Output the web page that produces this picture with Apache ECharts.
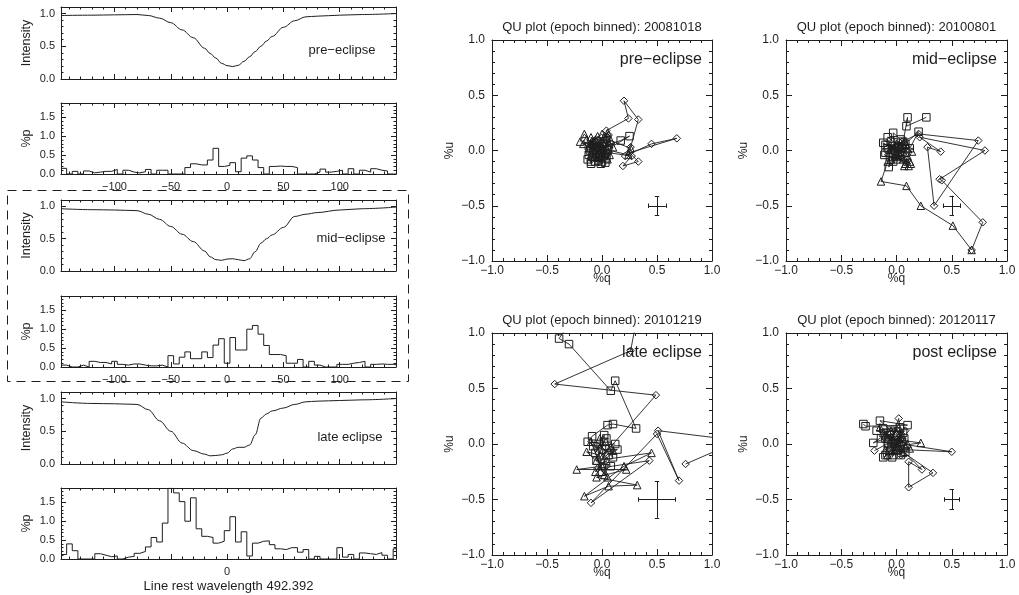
<!DOCTYPE html>
<html>
<head>
<meta charset="utf-8">
<script src="https://cdn.jsdelivr.net/npm/echarts@6/dist/echarts.min.js"></script>
<style>
  html, body { margin: 0; padding: 0; background: #fff; }
  #chart { width: 1019px; height: 595px; }
</style>
</head>
<body>
<div id="chart"></div>
<script>
// line profiles (velocity samples, km/s)
const velI = [-147.5, -120, -100, -80, -70, -60, -50, -40, -30, -20, -15, -10, -5, 0, 5, 10, 15, 20, 25, 30, 35, 40, 50, 60, 70, 80, 100, 120, 150]
const preInt = [0.97, 0.975, 0.98, 0.985, 0.97, 0.93, 0.86, 0.75, 0.63, 0.47, 0.39, 0.32, 0.24, 0.205, 0.19, 0.21, 0.27, 0.34, 0.42, 0.50, 0.58, 0.65, 0.79, 0.89, 0.95, 0.96, 0.975, 0.985, 1.0]
const midInt = [0.965, 0.95, 0.945, 0.935, 0.88, 0.80, 0.69, 0.57, 0.456, 0.31, 0.22, 0.176, 0.165, 0.185, 0.19, 0.175, 0.16, 0.19, 0.30, 0.43, 0.50, 0.56, 0.675, 0.845, 0.88, 0.905, 0.945, 0.965, 0.99]
const lateInt = [0.95, 0.925, 0.92, 0.91, 0.83, 0.66, 0.50, 0.32, 0.205, 0.15, 0.125, 0.13, 0.14, 0.165, 0.23, 0.255, 0.255, 0.29, 0.446, 0.70, 0.765, 0.81, 0.855, 0.91, 0.95, 0.96, 0.97, 0.98, 1.0]

// %p histograms, bin centres every 5 km/s
const binWidth = 5
const binCenters = [-145, -140, -135, -130, -125, -120, -115, -110, -105, -100, -95, -90, -85, -80, -75, -70, -65, -60, -55, -50,
  -45, -40, -35, -30, -25, -20, -15, -10, -5, 0, 5, 10, 15, 20, 25, 30, 35, 40, 45, 50,
  55, 60, 65, 70, 75, 80, 85, 90, 95, 100, 105, 110, 115, 120, 125, 130, 135, 140, 145, 150]
const prePol = [0.15, 0, 0.07, 0, 0.08, 0.03, 0.05, 0.07, 0.07, 0.12, 0, 0.1, 0.05, 0.03, 0.06, 0.12, 0, 0.1, 0.1, 0,
  0, 0, 0.17, 0.27, 0.24, 0.24, 0.37, 0.68, 0.2, 0.23, 0.3, 0.06, 0.42, 0.48, 0.37, 0.17, 0, 0.2, 0.21, 0.2,
  0.2, 0.17, 0, 0, 0, 0.05, 0.13, 0.05, 0.07, 0.1, 0, 0.14, 0, 0.1, 0.05, 0.14, 0.1, 0.08, 0, 0]
const midPol = [0.05, 0, 0, 0.05, 0, 0.15, 0.12, 0.12, 0.08, 0.15, 0.07, 0.05, 0.08, 0.08, 0.05, 0.03, 0.03, 0.05, 0, 0.3,
  0.08, 0.26, 0.4, 0.22, 0.22, 0.4, 0.25, 0.58, 0.75, 0.1, 0.78, 0.45, 0.45, 1.0, 1.1, 0.87, 0.57, 0.33, 0.33, 0.3,
  0.1, 0.1, 0.2, 0, 0.15, 0.05, 0, 0, 0, 0.07, 0.07, 0.1, 0.12, 0.15, 0, 0.07, 0.08, 0.07, 0.07, 0.05]
const latePol = [0.12, 0.4, 0.22, 0, 0, 0, 0.14, 0.1, 0.06, 0.08, 0, 0.05, 0.07, 0.15, 0.2, 0.32, 0.57, 0.45, 0.95, 1.87,
  1.75, 1.52, 1.0, 1.62, 0.8, 0.6, 0.57, 0.42, 0.47, 0.75, 1.12, 0.45, 0.72, 0.08, 0.42, 0.47, 0.48, 0.38, 0.27, 0.25,
  0.3, 0.3, 0.18, 0.25, 0, 0.07, 0, 0, 0, 0.3, 0.05, 0.12, 0, 0.16, 0.14, 0.12, 0.17, 0.1, 0, 0.27]

// QU points [q, u] per epoch: diamonds, squares, triangles
const preDia = [[0.02, 0.04], [0.08, 0.06], [0.06, 0.14], [0.04, 0.18], [0.24, 0.29], [0.2, 0.45], [0.33, 0.28], [0.26, 0.03], [0.21, -0.05], [0.45, 0.06], [0.68, 0.11], [0.25, -0.02], [0.33, -0.1], [0.19, -0.14], [0.27, -0.05], [0.06, -0.02], [0.0, -0.05], [-0.02, 0.03], [0.05, 0.12], [0.04, 0.1]]
const preSq = [[-0.12, -0.04], [-0.1, -0.12], [-0.04, -0.06], [-0.08, 0.05], [0.0, -0.1], [-0.13, -0.08], [-0.02, 0.02], [0.04, -0.07], [-0.06, -0.1], [0.02, 0.04], [0.17, 0.09], [0.25, 0.13], [0.0, -0.02], [-0.1, 0.02], [-0.05, 0.08], [0.03, -0.11], [-0.08, -0.02],
  [-0.11, 0.0], [-0.03, -0.09], [0.01, 0.06], [-0.09, -0.06], [-0.05, 0.0], [0.03, -0.03], [-0.12, 0.04], [-0.01, -0.12], [-0.07, 0.07], [0.05, 0.01], [-0.1, -0.1], [-0.02, -0.04]]
const preTri = [[-0.2, 0.08], [-0.16, 0.15], [-0.1, 0.06], [-0.04, 0.13], [0.01, 0.07], [0.05, 0.16], [0.03, -0.02], [-0.08, 0.0], [-0.14, 0.1], [0.07, -0.04], [0.1, 0.03], [-0.02, -0.06], [0.08, 0.09], [0.26, 0.02], [0.24, -0.04], [-0.05, 0.03], [0.02, 0.12],
  [-0.12, 0.02], [-0.06, 0.1], [0.0, 0.15], [0.04, 0.02], [-0.1, 0.12], [-0.03, -0.02], [0.06, 0.07], [-0.17, 0.06], [0.02, -0.05], [-0.08, 0.08], [0.05, -0.08], [0.0, 0.04]]

const midDia = [[0.0, 0.02], [0.05, 0.08], [0.2, 0.15], [0.74, 0.09], [0.34, -0.5], [0.28, 0.03], [0.4, -0.01], [0.21, 0.12], [0.8, 0.0], [0.39, -0.26], [0.41, -0.27], [0.78, -0.65], [0.68, -0.9]]
const midSq = [[0.27, 0.3], [0.09, 0.22], [0.1, 0.3], [0.06, 0.08], [-0.03, 0.16], [-0.02, 0.0], [-0.12, 0.07], [-0.1, -0.02], [-0.04, 0.04], [0.03, -0.04], [-0.07, -0.15], [-0.06, -0.06], [0.05, 0.02], [0.12, 0.02], [0.2, 0.17], [0.08, 0.06], [-0.08, 0.02],
  [-0.05, 0.08], [0.0, -0.08], [-0.11, -0.04], [0.04, 0.1], [-0.08, 0.12], [0.02, 0.04], [-0.03, -0.1], [0.08, -0.02], [-0.1, 0.05], [0.0, 0.02]]
const midTri = [[0.0, -0.03], [0.08, -0.12], [0.1, -0.05], [0.04, 0.04], [0.14, -0.01], [0.07, -0.14], [-0.02, 0.02], [0.12, -0.1], [-0.05, -0.08], [0.02, -0.05], [0.09, 0.05],
  [0.04, -0.02], [-0.05, 0.02], [0.1, 0.02], [0.06, -0.08], [0.13, -0.12], [-0.02, -0.06], [0.08, 0.08], [0.0, 0.06], [0.11, -0.14], [-0.06, -0.02],
  [-0.08, -0.1], [-0.14, -0.28], [0.09, -0.32], [0.22, -0.5], [0.51, -0.68], [0.68, -0.9]]

const lateDia = [[0.33, 1.2], [0.26, 0.84], [-0.43, 0.54], [0.49, 0.44], [0.03, -0.08], [-0.04, -0.22], [0.43, -0.15], [-0.1, -0.53], [0.5, 0.09], [0.7, -0.33], [0.51, 0.12], [1.25, 0.03], [0.76, -0.18]]
const lateSq = [[-0.33, 1.04], [-0.39, 0.95], [-0.3, 0.9], [0.08, 0.48], [0.12, 0.57], [0.31, 0.14], [0.1, 0.18], [0.05, 0.17], [-0.09, 0.07], [-0.13, 0.02], [0.0, -0.05], [0.14, -0.05], [0.06, -0.1], [-0.03, 0.0], [0.1, -0.12], [0.04, 0.05], [-0.06, -0.08], [0.02, 0.08],
  [0.02, 0.02], [-0.05, -0.15], [0.08, -0.2], [0.0, -0.25], [-0.08, -0.02], [0.12, 0.0]]
const lateTri = [[-0.02, -0.1], [-0.14, -0.07], [0.0, -0.2], [-0.23, -0.23], [0.22, -0.23], [-0.05, -0.3], [0.32, -0.37], [0.06, -0.38], [-0.16, -0.47], [0.2, -0.2], [0.45, -0.08], [-0.05, -0.15], [0.08, -0.02], [-0.1, 0.02], [0.02, -0.28],
  [0.04, -0.15], [-0.06, -0.25], [0.1, -0.06], [-0.02, 0.05], [0.05, -0.3]]

const postDia = [[-0.2, -0.06], [-0.05, 0.02], [0.02, 0.23], [0.05, 0.0], [0.5, -0.07], [0.05, -0.05], [0.23, -0.23], [0.11, -0.16], [0.11, -0.39], [0.33, -0.26], [-0.02, -0.02], [-0.05, 0.06], [0.04, -0.1], [0.0, 0.08], [0.08, 0.12]]
const postSq = [[-0.3, 0.18], [-0.28, 0.16], [0.1, 0.17], [-0.15, 0.21], [-0.05, 0.12], [-0.21, 0.01], [-0.1, 0.05], [-0.12, -0.12], [0.0, -0.05], [0.08, -0.07], [-0.06, 0.08], [0.03, 0.15], [-0.18, 0.12], [0.05, 0.02], [-0.1, -0.1],
  [-0.08, 0.0], [-0.02, 0.08], [-0.14, 0.05], [0.04, -0.1], [-0.06, -0.06], [0.06, 0.1], [-0.12, 0.14], [0.0, 0.0], [-0.04, -0.12], [0.07, 0.05]]
const postTri = [[-0.15, 0.15], [-0.08, 0.05], [0.22, 0.01], [0.0, -0.02], [-0.1, -0.05], [0.05, 0.08], [-0.03, -0.1], [0.08, -0.03], [-0.12, 0.1], [0.02, 0.15], [0.1, 0.0], [-0.04, 0.04],
  [-0.06, -0.02], [0.03, 0.02], [-0.1, 0.08], [0.06, -0.08], [0.0, 0.1], [-0.05, 0.12], [0.12, -0.04], [-0.02, -0.06], [0.04, 0.06], [-0.08, -0.1]]

// typical error bar, centre and half widths (q, u)
const errCenter = [0.5, -0.5]
const preErr = [0.08, 0.085]
const midErr = [0.08, 0.09]
const lateErr = [0.17, 0.165]
const postErr = [0.07, 0.09]

const quTitles = ['QU plot (epoch binned): 20081018', 'QU plot (epoch binned): 20100801', 'QU plot (epoch binned): 20101219', 'QU plot (epoch binned): 20120117']
const quLabels = ['pre\u2212eclipse', 'mid\u2212eclipse', 'late eclipse', 'post eclipse']
const profLabels = ['pre\u2212eclipse', 'mid\u2212eclipse', 'late eclipse']

const FONT = '"Liberation Sans", Arial, Helvetica, sans-serif'
const INK = '#1e1e1e'
const minus = (s) => String(s).replace('-', '\u2212')

const grids = []
const xAxes = []
const yAxes = []
const series = []
const graphics = []

function makeAxis(g, pos, s, main) {
  return {
    type: 'value', gridIndex: g, position: pos,
    min: s.min, max: s.max, interval: s.interval, splitNumber: s.split,
    name: main && s.name ? s.name : '', nameLocation: 'middle', nameGap: s.nameGap, nameMoveOverlap: false,
    nameTextStyle: { color: INK, fontFamily: FONT, fontSize: s.nameSize || 12 },
    axisLine: { show: true, onZero: false, lineStyle: { color: INK, width: 1 } },
    axisTick: { show: true, inside: true, length: s.tick, lineStyle: { color: INK, width: 1 } },
    minorTick: { show: true, splitNumber: 5, length: s.tick / 2, lineStyle: { color: INK, width: 1 } },
    splitLine: { show: false },
    axisLabel: { show: main && !!s.fmt, formatter: s.fmt, margin: s.margin, color: INK, fontFamily: FONT, fontSize: s.fontSize, showMinLabel: true, showMaxLabel: true }
  }
}

function addGrid(rect, xs, ys) {
  const g = grids.length
  grids.push({ left: rect[0], top: rect[1], width: rect[2], height: rect[3], outerBoundsMode: 'none', containLabel: false })
  xAxes.push(makeAxis(g, 'bottom', xs, true), makeAxis(g, 'top', xs, false))
  yAxes.push(makeAxis(g, 'left', ys, true), makeAxis(g, 'right', ys, false))
  return 2 * g
}

const fmtY = (v) => (Math.abs(v * 2 - Math.round(v * 2)) < 1e-6 && v <= 1.5) ? v.toFixed(1) : ''
const fmtVel = (v) => (v % 50 === 0 && Math.abs(v) < 150) ? minus(v) : ''
const fmtZero = (v) => v === 0 ? '0' : ''
const fmtQU = (v) => minus(v.toFixed(1))

const velAxis = { min: -147.5, max: 150, split: 6, tick: 5, fontSize: 11, margin: 7 }
const intAxis = { min: 0, max: 1.1, interval: 0.5, tick: 5, fmt: fmtY, fontSize: 11, margin: 6, name: 'Intensity', nameGap: 28, nameSize: 12.5 }
const polAxis = { min: 0, max: 1.88, interval: 0.5, tick: 5, fmt: fmtY, fontSize: 11, margin: 6, name: '%p', nameGap: 28, nameSize: 12.5 }

// left column: intensity / %p pairs
const leftX = 61
const leftW = 335
const leftTops = [7, 103, 200, 296, 392, 488]
const leftH = [72, 71, 71, 71, 72, 71]
const intSets = [preInt, midInt, lateInt]
const polSets = [prePol, midPol, latePol]
const labelPos = [[342, 50], [351, 238], [350, 437]]

function histSteps(vals) {
  const d = binCenters.map((c, i) => [c - binWidth / 2, vals[i]])
  d.push([binCenters[binCenters.length - 1] + binWidth / 2, vals[vals.length - 1]])
  return d
}

for (let p = 0; p < 3; p++) {
  let i = addGrid([leftX, leftTops[2 * p], leftW, leftH[2 * p]], velAxis, intAxis)
  series.push({
    type: 'line', xAxisIndex: i, yAxisIndex: i, data: velI.map((v, k) => [v, intSets[p][k]]),
    showSymbol: false, symbol: 'none', smooth: 0.35, smoothMonotone: 'x',
    lineStyle: { color: INK, width: 1 }, silent: true
  })
  const xs = p === 2
    ? Object.assign({}, velAxis, { fmt: fmtZero, name: 'Line rest wavelength 492.392', nameGap: 21, nameSize: 13 })
    : Object.assign({}, velAxis, { fmt: fmtVel })
  i = addGrid([leftX, leftTops[2 * p + 1], leftW, leftH[2 * p + 1]], xs, polAxis)
  series.push({
    type: 'line', xAxisIndex: i, yAxisIndex: i, data: histSteps(polSets[p]), step: 'end',
    showSymbol: false, symbol: 'none', lineStyle: { color: INK, width: 1 }, silent: true
  })
  graphics.push({
    type: 'text', x: labelPos[p][0], y: labelPos[p][1],
    style: { text: profLabels[p], align: 'center', verticalAlign: 'middle', font: '13px ' + FONT, fill: INK }
  })
}

// mid-eclipse dashed frame
graphics.push({
  type: 'rect', shape: { x: 7.5, y: 190.5, width: 401, height: 191 },
  style: { fill: 'none', stroke: INK, lineWidth: 1, lineDash: [9, 6] }
})

// QU panels
const quRects = [[492, 40, 220, 221], [786, 40, 221, 221], [492, 333, 220, 222], [786, 333, 221, 222]]
const quSets = [
  [preDia, preSq, preTri, preErr],
  [midDia, midSq, midTri, midErr],
  [lateDia, lateSq, lateTri, lateErr],
  [postDia, postSq, postTri, postErr]
]
const qAxis = { min: -1, max: 1, interval: 0.5, tick: 6, fmt: fmtQU, fontSize: 12, margin: 4, name: '%q', nameGap: 12, nameSize: 12 }
const uAxis = { min: -1, max: 1, interval: 0.5, tick: 6, fmt: fmtQU, fontSize: 12, margin: 7, name: '%u', nameGap: 36, nameSize: 12 }
const symbols = ['diamond', 'rect', 'triangle']
const cap = 0.02

quRects.forEach((r, n) => {
  const i = addGrid(r, qAxis, uAxis)
  const set = quSets[n]
  for (let s = 0; s < 3; s++) {
    // open outline symbols, the path shows through as in the original plot
    series.push({
      type: 'line', xAxisIndex: i, yAxisIndex: i, data: set[s], clip: true,
      symbol: symbols[s], symbolSize: 7.5, showSymbol: true, showAllSymbol: true,
      lineStyle: { color: INK, width: 0.9 },
      itemStyle: { color: 'rgba(255,255,255,0)', borderColor: INK, borderWidth: 1 },
      silent: true, z: 3 + s
    })
  }
  const [q, u] = errCenter
  const [dq, du] = set[3]
  series.push({
    type: 'lines', coordinateSystem: 'cartesian2d', xAxisIndex: i, yAxisIndex: i, silent: true,
    lineStyle: { color: INK, width: 1, opacity: 1, curveness: 0 },
    data: [
      { coords: [[q - dq, u], [q + dq, u]] },
      { coords: [[q, u - du], [q, u + du]] },
      { coords: [[q - dq, u - cap], [q - dq, u + cap]] },
      { coords: [[q + dq, u - cap], [q + dq, u + cap]] },
      { coords: [[q - cap, u - du], [q + cap, u - du]] },
      { coords: [[q - cap, u + du], [q + cap, u + du]] }
    ]
  })
  graphics.push({
    type: 'text', x: r[0] + r[2] / 2, y: r[1] - 13,
    style: { text: quTitles[n], align: 'center', verticalAlign: 'middle', font: '13px ' + FONT, fill: INK }
  })
  graphics.push({
    type: 'text', x: r[0] + r[2] - 10, y: r[1] + 20,
    style: { text: quLabels[n], align: 'right', verticalAlign: 'middle', font: '16px ' + FONT, fill: INK }, z: 10
  })
})

const chart = echarts.init(document.getElementById('chart'))
chart.setOption({
  animation: false,
  backgroundColor: '#fff',
  grid: grids,
  xAxis: xAxes,
  yAxis: yAxes,
  series: series,
  graphic: graphics
})
</script>
</body>
</html>
